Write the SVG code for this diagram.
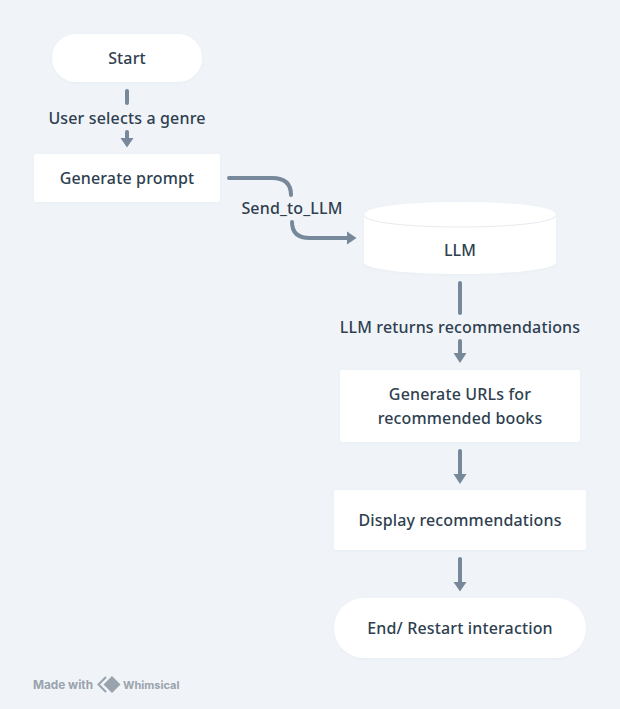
<svg xmlns="http://www.w3.org/2000/svg" width="620" height="709" viewBox="0 0 620 709">
<style>
.bg{fill:#f0f4f8}
.n{fill:#fff;filter:url(#s)}
text{font-family:"Noto Sans","Open Sans",sans-serif;font-size:16px;font-weight:500;letter-spacing:.15px;fill:#2f3f50;text-anchor:middle}
.c{fill:none;stroke:#76889a;stroke-width:4;stroke-linecap:round}
.h{fill:#76889a}
text.w{font-family:"Inter","Liberation Sans",sans-serif;font-size:11.800px;font-weight:700;letter-spacing:0;fill:#99a3ad;text-anchor:start}
</style>
<defs>
<filter id="s" x="-10%" y="-20%" width="120%" height="140%"><feDropShadow dx="0" dy="1" stdDeviation="1.5" flood-color="#8fa0b0" flood-opacity="0.08"/></filter>
</defs>
<rect class="bg" width="620" height="709"/>
<g id="connectors">
<path class="c" d="M127 91V103"/>
<path class="c" d="M127 132V143"/>
<path class="h" d="M120.500 138H133.500L127 147.500Z"/>
<path class="c" d="M229 178H272Q291 178 291 195"/>
<path class="c" d="M292 222Q292 238 310 238H350"/>
<path class="h" d="M347 231.500L356.500 238L347 244.500Z"/>
<path class="c" d="M460 283V313"/>
<path class="c" d="M460 341V354"/>
<path class="h" d="M453.500 353H466.500L460 363Z"/>
<path class="c" d="M460 451V476"/>
<path class="h" d="M453.500 474H466.500L460 484Z"/>
<path class="c" d="M460 559V583"/>
<path class="h" d="M453.500 582H466.500L460 591.500Z"/>
</g>
<g id="edge-labels">
<text x="127" y="124">User selects a genre</text>
<text x="292" y="214">Send_to_LLM</text>
<text x="460" y="333">LLM returns recommendations</text>
</g>
<g id="start"><rect class="n" x="52" y="34" width="150" height="48" rx="24"/><text x="127" y="64">Start</text></g>
<g id="generate-prompt"><rect class="n" x="34" y="154" width="186" height="48" rx="2"/><text x="127" y="184">Generate prompt</text></g>
<g id="llm">
<path class="n" d="M364 215C364 207 404 202 460 202C516 202 556 207 556 215V262C556 269 516 274 460 274C404 274 364 269 364 262Z"/>
<path d="M364 215C364 222 404 227 460 227C516 227 556 222 556 215" fill="none" stroke="#e6ebf0" stroke-width="1"/>
<text x="460" y="256">LLM</text>
</g>
<g id="generate-urls"><rect class="n" x="340" y="370" width="240" height="72" rx="2"/><text x="460" y="400">Generate URLs for</text><text x="460" y="424">recommended books</text></g>
<g id="display"><rect class="n" x="334" y="490" width="252" height="60" rx="2"/><text x="460" y="526">Display recommendations</text></g>
<g id="end"><rect class="n" x="334" y="598" width="252" height="60" rx="30"/><text x="460" y="634">End/ Restart interaction</text></g>
<g id="watermark">
<text class="w" x="33" y="689">Made with</text>
<path d="M106 677L98.500 684.500L106 692" fill="none" stroke="#99a3ad" stroke-width="2"/>
<path fill="#99a3ad" d="M112 676L120.500 684.500L112 693L103.500 684.500Z"/>
<text class="w" x="123" y="689" style="font-size:11px">Whimsical</text>
</g>
</svg>
